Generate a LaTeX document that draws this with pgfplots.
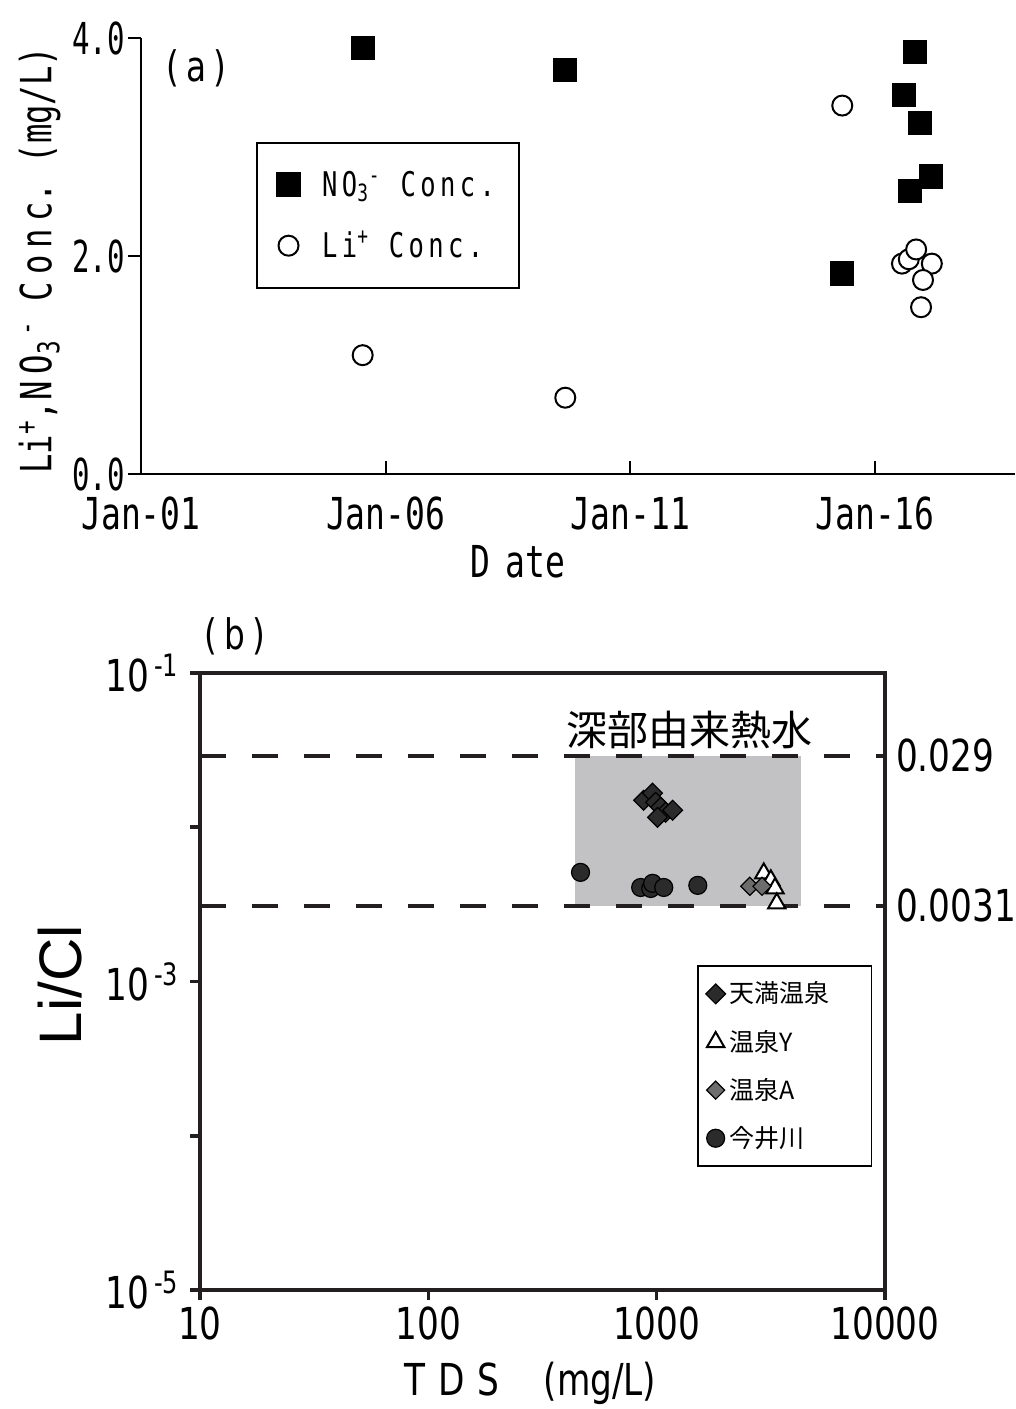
\documentclass[border=0pt]{standalone}
\usepackage{fontspec}
\usepackage{pgfplots}
\pgfplotsset{compat=1.18}
\setmainfont{DejaVu Sans}
\newfontfamily\nmono{DejaVu Sans Mono}[FakeStretch=0.75]
\newfontfamily\nmonoN{DejaVu Sans Mono}[FakeStretch=0.66]
\newfontfamily\nmonoL{DejaVu Sans Mono}[FakeStretch=0.75, LetterSpace=13]
\newfontfamily\nsans{DejaVu Sans}[FakeStretch=0.78]
\newfontfamily\ars{Liberation Sans}
\newfontfamily\cjk{Noto Sans CJK JP}
\definecolor{dk}{HTML}{231F20}
\definecolor{shade}{HTML}{C2C2C4}
\definecolor{tenman}{HTML}{2B2B2B}
\definecolor{onsenA}{HTML}{6D6D6D}
\begin{document}
\begin{tikzpicture}[x=1pt,y=1pt]
\useasboundingbox (0,0) rectangle (508,704.5);
% ---------------- (a)
\begin{axis}[
  at={(70.5pt,467.5pt)}, anchor=south west,
  scale only axis, width=437pt, height=218pt, clip=false,
  xmin=2001, xmax=2018.86, ymin=0, ymax=4,
  axis x line*=bottom, axis y line*=left,
  axis line style={line width=1.2pt, black},
  xtick={2001,2006,2011,2016},
  xticklabels={Jan-01,Jan-06,Jan-11,Jan-16},
  ytick={0,2,4}, yticklabels={0.0,2.0,4.0},
  xtick align=inside, ytick align=outside, major tick length=6.5pt,
  tick style={line width=1pt, black},
  xticklabel style={yshift=-8pt, font=\nmono\fontsize{22}{24}\selectfont},
  yticklabel style={xshift=2pt, font=\nmonoN\fontsize{22}{24}\selectfont},
  xlabel={D\hspace{0.35em}ate},
  xlabel style={at={(rel axis cs:0.431,-0.202)}, anchor=center, font=\nmono\fontsize{22}{24}\selectfont},
  ylabel={Li\textsuperscript{+},N\,O\textsubscript{3}\textsuperscript{\,-} C\,o\,n\,c.\ (mg/L)},
  ylabel style={at={(rel axis cs:-0.116,0.49)}, anchor=center, font=\nmono\fontsize{21.5}{24}\selectfont},
  legend style={at={(0.1316,0.7615)}, anchor=north west, draw=black, line width=0.9pt,
     font=\nmonoL\fontsize{17}{19}\selectfont, row sep=12pt, inner xsep=10pt, inner ysep=12pt,
     /tikz/every odd column/.append style={column sep=9pt}},
  legend cell align=left,
]
\addplot[only marks, mark=square*, mark size=5.8pt, mark options={fill=black, draw=black}]
 coordinates {(2005.53,3.91) (2009.67,3.71) (2015.33,1.84) (2016.59,3.48) (2016.82,3.87) (2016.92,3.22) (2016.71,2.60) (2017.14,2.73)};
\addlegendentry{NO\textsubscript{3}\textsuperscript{-} Conc.}
\addplot[only marks, mark=*, mark size=5pt, mark options={fill=white, draw=black, line width=1pt}]
 coordinates {(2005.53,1.09) (2009.67,0.70) (2015.33,3.38) (2016.55,1.93) (2016.69,1.97) (2016.84,2.06) (2017.16,1.93) (2016.98,1.78) (2016.94,1.53)};
\addlegendentry{Li\textsuperscript{+} Conc.}
\node[font=\nsans\fontsize{21}{22}\selectfont] at (rel axis cs:0.063,0.931) {(\,a\,)};
\end{axis}
% ---------------- (b)
\begin{axis}[
  at={(100pt,59.5pt)}, anchor=south west,
  scale only axis, width=342.5pt, height=308.5pt, clip=false,
  xmode=log, ymode=log, xmin=10, xmax=10000, ymin=1e-5, ymax=1e-1,
  axis line style={line width=1.8pt, dk},
  tick align=outside, major tick length=5pt, tick style={line width=1.8pt, dk},
  xtick pos=bottom, ytick pos=left,
  xminorticks=false, yminorticks=false,
  xtick={10,100,1000,10000}, xticklabels={10,100,1000,10000},
  ytick={1e-5,1e-4,1e-3,1e-2,1e-1},
  yticklabels={10\textsuperscript{\,-5},,10\textsuperscript{\,-3},,10\textsuperscript{\,-1}},
  ticklabel style={font=\nsans\fontsize{22}{24}\selectfont},
  yticklabel style={xshift=-2pt},
  xlabel={T\hspace{0.3em}D\hspace{0.3em}S\quad (mg/L)},
  xlabel style={at={(rel axis cs:0.482,-0.151)}, anchor=center, font=\nsans\fontsize{22}{24}\selectfont},
  ylabel={Li/Cl},
  ylabel style={at={(rel axis cs:-0.204,0.494)}, anchor=center, font=\ars\fontsize{30}{32}\selectfont},
  legend style={at={(0.7255,0.5267)}, anchor=north west, draw=black, line width=0.8pt,
     font=\cjk\fontsize{12.5}{14}\selectfont, row sep=8pt, inner xsep=4pt, inner ysep=6pt},
  legend cell align=left,
]
\addplot[fill=shade, draw=none, forget plot] coordinates {(440,0.0031) (4300,0.0031) (4300,0.029) (440,0.029)} -- cycle;
\addplot[dk, line width=2pt, dash pattern=on 13pt off 13pt, forget plot] coordinates {(10,0.029) (10000,0.029)};
\addplot[dk, line width=2pt, dash pattern=on 13pt off 13pt, forget plot] coordinates {(10,0.0031) (10000,0.0031)};
\addplot[only marks, mark=square*, mark size=3.5pt, mark options={rotate=45, fill=tenman, draw=black, line width=0.6pt}]
 coordinates {(877,0.01496) (959,0.01663) (990,0.01452) (1042,0.01349) (1095,0.0125) (1175,0.0129) (1009,0.0116)};
\addlegendentry{天満温泉\hspace*{15pt}}
\addplot[only marks, mark=triangle*, mark size=5pt, mark options={fill=white, draw=black, line width=1pt}]
 coordinates {(2944,0.00502) (3162,0.00453) (3298,0.00402) (3357,0.00321)};
\addlegendentry{温泉Y}
\addplot[only marks, mark=square*, mark size=3.2pt, mark options={rotate=45, fill=onsenA, draw=black, line width=0.6pt}]
 coordinates {(2558,0.00414) (2893,0.00414)};
\addlegendentry{温泉A}
\addplot[only marks, mark=*, mark size=4.5pt, mark options={fill=tenman, draw=black, line width=0.6pt}]
 coordinates {(464,0.0051) (851,0.00407) (942,0.00401) (960,0.00433) (1074,0.00407) (1514,0.0042)};
\addlegendentry{今井川}
\node[font=\cjk\fontsize{20.5}{22}\selectfont] at (rel axis cs:0.715,0.908) {深部由来熱水};
\node[font=\nsans\fontsize{22}{24}\selectfont, anchor=west] at (axis cs:10000,0.029) {\hspace{2pt}0.029};
\node[font=\nsans\fontsize{22}{24}\selectfont, anchor=west] at (axis cs:10000,0.0031) {\hspace{2pt}0.0031};
\node[font=\nsans\fontsize{21}{22}\selectfont] at (rel axis cs:0.051,1.06) {(\,b\,)};
\end{axis}
\end{tikzpicture}
\end{document}
